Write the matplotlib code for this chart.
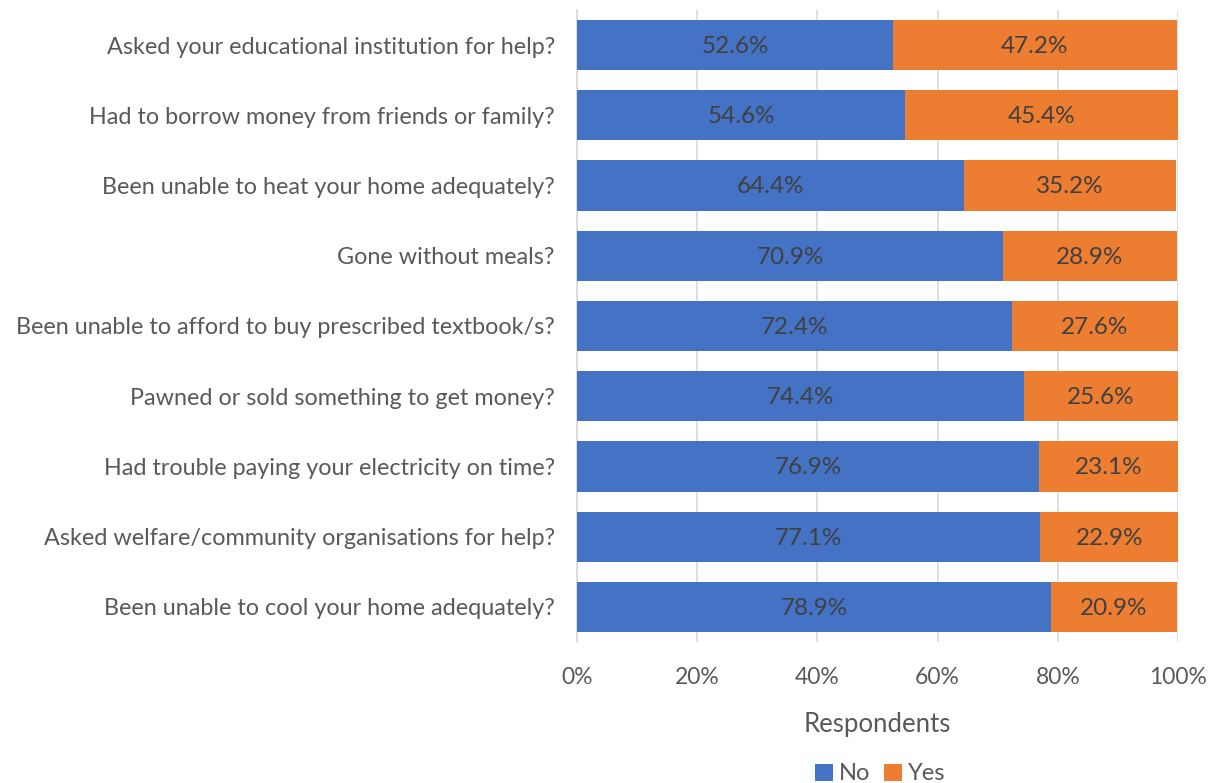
import matplotlib
matplotlib.use("Agg")
import matplotlib.pyplot as plt
from matplotlib.ticker import FuncFormatter

categories = [
    "Asked your educational institution for help?",
    "Had to borrow money from friends or family?",
    "Been unable to heat your home adequately?",
    "Gone without meals?",
    "Been unable to afford to buy prescribed textbook/s?",
    "Pawned or sold something to get money?",
    "Had trouble paying your electricity on time?",
    "Asked welfare/community organisations for help?",
    "Been unable to cool your home adequately?",
]
no_vals = [52.6, 54.6, 64.4, 70.9, 72.4, 74.4, 76.9, 77.1, 78.9]
yes_vals = [47.2, 45.4, 35.2, 28.9, 27.6, 25.6, 23.1, 22.9, 20.9]
x_ticks = [0, 20, 40, 60, 80, 100]

plt.rcParams['font.family'] = ['Lato', 'DejaVu Sans']

fig = plt.figure(figsize=(12.16, 7.83), dpi=100)
ax = fig.add_axes([577/1216, 1-642/783, (1178-577)/1216, (642-10)/783])

blue = "#4472C4"
orange = "#ED7D31"
ypos = list(range(len(categories)))
h = 50/70
b1 = ax.barh(ypos, no_vals, height=h, color=blue, label="No", zorder=3)
b2 = ax.barh(ypos, yes_vals, left=no_vals, height=h, color=orange, label="Yes", zorder=3)

for i, (n, y) in enumerate(zip(no_vals, yes_vals)):
    ax.text(n/2, i + 0.02, f"{n:.1f}%", ha="center", va="center", fontsize=17.5, color="#404040", zorder=4)
    ax.text(n + y/2, i + 0.02, f"{y:.1f}%", ha="center", va="center", fontsize=17.5, color="#404040", zorder=4)

ax.set_xlim(0, 100)
ax.set_ylim(len(categories)-0.5, -0.5)
ax.set_yticks(ypos)
ax.set_yticklabels(categories, fontsize=16.8, color="#595959")
ax.set_xticks(x_ticks)
ax.xaxis.set_major_formatter(FuncFormatter(lambda v, p: f"{v:.0f}%"))
ax.tick_params(axis='x', labelsize=16.5, labelcolor="#595959", length=0, pad=18)
ax.tick_params(axis='y', length=0, pad=16)
ax.grid(axis='x', color="#D9D9D9", linewidth=1.2, zorder=0)
for s in ["top", "right", "bottom"]:
    ax.spines[s].set_visible(False)
ax.spines["left"].set_color("#D9D9D9")
ax.spines["left"].set_linewidth(1.2)
ax.set_xlabel("Respondents", fontsize=18.5, color="#595959", labelpad=17)

fig.legend(handles=[b1, b2], labels=["No", "Yes"], loc="center", bbox_to_anchor=(880/1216, 1-774/783),
           ncol=2, frameon=False, fontsize=17, handlelength=0.75, handleheight=0.75,
           handletextpad=0.25, columnspacing=0.6, labelcolor="#595959")

fig.savefig("out.png", dpi=100)
